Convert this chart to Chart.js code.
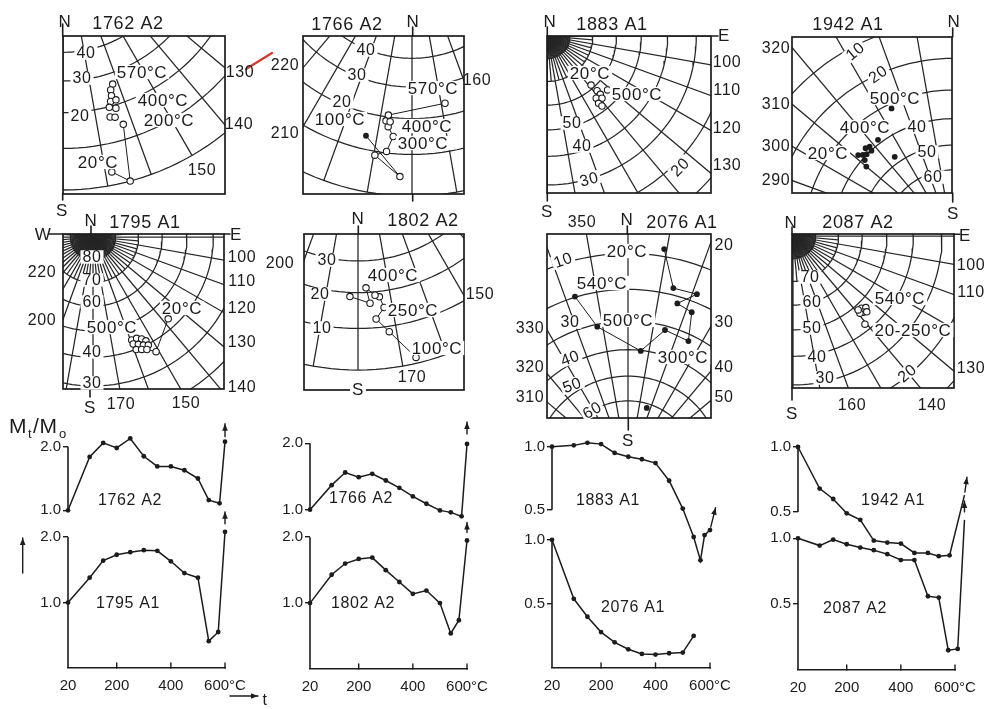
<!DOCTYPE html>
<html>
<head>
<meta charset="utf-8">
<script src="https://cdn.jsdelivr.net/npm/chart.js@4.4.0/dist/chart.umd.min.js"></script>
<style>
  body { margin: 0; background: #fff; width: 992px; height: 709px; overflow: hidden; position: relative; }
  canvas { position: absolute; }
</style>
</head>
<body>
<script>
// ---- demagnetisation curves, Mt/Mo against temperature (degC) ----
const t1762 = [20, 100, 150, 200, 250, 300, 350, 400, 450, 500, 540, 580, 600];
const m1762 = [1.0, 1.84, 2.06, 1.98, 2.13, 1.85, 1.69, 1.69, 1.63, 1.50, 1.16, 1.11, 2.08];
const t1795 = [20, 100, 150, 200, 250, 300, 350, 400, 450, 500, 540, 575, 600];
const m1795 = [1.0, 1.38, 1.64, 1.73, 1.77, 1.80, 1.79, 1.63, 1.45, 1.38, 0.41, 0.55, 2.08];
const t1766 = [20, 100, 150, 200, 250, 300, 350, 400, 450, 500, 540, 580, 600];
const m1766 = [1.0, 1.37, 1.56, 1.49, 1.54, 1.44, 1.33, 1.20, 1.09, 0.99, 0.96, 0.90, 1.99];
const t1802 = [20, 100, 150, 200, 250, 300, 350, 400, 450, 500, 540, 570, 600];
const m1802 = [1.0, 1.43, 1.60, 1.67, 1.69, 1.50, 1.32, 1.14, 1.19, 1.0, 0.54, 0.74, 1.95];
const t1883 = [20, 100, 150, 200, 250, 300, 350, 400, 450, 500, 540, 565, 580, 600];
const m1883 = [1.0, 1.01, 1.03, 1.02, 0.95, 0.92, 0.90, 0.87, 0.73, 0.51, 0.285, 0.10, 0.30, 0.34];
const t2076 = [20, 100, 150, 200, 250, 300, 350, 400, 450, 500, 540];
const m2076 = [1.0, 0.54, 0.40, 0.28, 0.20, 0.146, 0.11, 0.105, 0.115, 0.12, 0.25];
const t1942 = [20, 100, 150, 200, 250, 300, 350, 400, 450, 500, 540, 580, 635];
const m1942 = [1.0, 0.68, 0.60, 0.49, 0.44, 0.28, 0.265, 0.257, 0.185, 0.185, 0.16, 0.167, 0.63];
const t2087 = [20, 100, 150, 200, 250, 300, 350, 400, 450, 500, 540, 575, 610, 635];
const m2087 = [1.0, 0.945, 0.99, 0.955, 0.93, 0.91, 0.88, 0.835, 0.835, 0.56, 0.55, 0.15, 0.16, 1.14];

const xTicks = [20, 200, 400, 600];
const xLabels = ["20", "200", "400", "600°C"];

// ---- directions [declination, inclination] for the stereonets ----
const d1762Path = [[168.5, 3], [164.9, 0], [162.6, 14]];
const d1762Open = [[168.5, 3], [164.9, 0], [162.6, 14], [161.9, 26.4], [163.2, 24.8], [163.5, 23], [164.3, 21.4], [162.5, 21.4], [165.2, 19.8], [163.3, 19], [165.7, 17], [164.3, 16.6]];
const d1766Path = [[193.1, 13.6], [182.9, 4.4], [189.7, 9], [186.8, 10.4], [185.4, 14.6], [187.2, 17.2], [188.1, 18.8], [187.6, 20.6], [168.7, 23.7]];
const d1766Open = [[182.9, 4.4], [189.7, 9], [186.8, 10.4], [185.4, 14.6], [187.2, 17.2], [188.1, 18.8], [186.8, 18.7], [187.6, 20.6], [168.7, 23.7]];
const d1766Filled = [[193.1, 13.6]];
const d1883Open = [[138.3, 61.4], [137.7, 58], [137.7, 56], [141.8, 55.9], [138.7, 54.4], [142.7, 53.7], [142, 52], [131.8, 55.2]];
const d1942Filled = [[334.9, 31.6], [323, 38.6], [318, 38.6], [316.2, 38], [317.4, 40.1], [314.6, 39.8], [313.1, 39], [311.6, 37.8], [311.9, 40.8], [310, 42.8], [324.8, 47.4]];
const d1795Path = [[137.4, 43.4], [151.2, 36.2], [154.4, 38.4]];
const d1795Open = [[137.4, 43.4], [151.2, 36.2], [159.4, 43.8], [156.7, 43.7], [154.5, 42.7], [153, 41.4], [159.4, 42.2], [157.1, 41.4], [155, 40.4], [152.9, 39.6], [159, 39.9], [156.6, 39.2], [154.4, 38.4]];
const d1802Path = [[166.7, 1.3], [171.9, 8.6], [175, 12.3], [172.4, 15.2], [173.4, 18.4], [174.7, 19], [177.4, 21.4], [176.4, 16.8], [182.5, 18.8]];
const d2076Path = [[9.3, 8.1], [14, 18], [21.4, 17.6], [16.5, 22.1], [22, 23.2], [25.1, 32.2], [14.8, 31.4], [6.1, 40.2], [347.9, 30.8], [343, 19.8]];
const d2076Extra = [[16.8, 61.8]];
const d2087Open = [[136.5, 47.8], [134.5, 46.8], [137.3, 46.2], [139.1, 46.8], [138.6, 48.2], [135.8, 45.4], [140.8, 42.4]];

const FONT = '"Liberation Sans", "DejaVu Sans", Arial, sans-serif';
const INK = "#1c1c1c";

function addCanvas(left, top, w, h) {
  const c = document.createElement("canvas");
  c.width = w; c.height = h;
  c.style.left = left + "px"; c.style.top = top + "px";
  c.style.width = w + "px"; c.style.height = h + "px";
  document.body.appendChild(c);
  return c;
}

function arrowHead(ctx, x1, y1, x2, y2) {
  const a = Math.atan2(y2 - y1, x2 - x1);
  ctx.beginPath();
  ctx.moveTo(x1, y1); ctx.lineTo(x2, y2); ctx.stroke();
  ctx.beginPath();
  ctx.moveTo(x2, y2);
  ctx.lineTo(x2 - 7 * Math.cos(a) + 2.8 * Math.sin(a), y2 - 7 * Math.sin(a) - 2.8 * Math.cos(a));
  ctx.lineTo(x2 - 7 * Math.cos(a) - 2.8 * Math.sin(a), y2 - 7 * Math.sin(a) + 2.8 * Math.cos(a));
  ctx.closePath(); ctx.fill();
}

// frame, axis stub, extra strokes, arrows and text labels (page coordinates -> canvas)
const deco = {
  id: "deco",
  afterDatasetsDraw(chart, args, o) {
    const ctx = chart.ctx, a = chart.chartArea;
    ctx.save();
    ctx.strokeStyle = INK; ctx.fillStyle = INK; ctx.lineCap = "round";
    if (o.box) {
      ctx.lineWidth = 1.7;
      ctx.strokeRect(a.left, a.top, a.right - a.left, a.bottom - a.top);
    }
    if (o.axis) {
      const ys = chart.scales.y;
      ctx.lineWidth = 1.6; ctx.lineCap = "butt";
      ctx.beginPath();
      ctx.moveTo(a.left, ys.getPixelForValue(o.axis[1]));
      ctx.lineTo(a.left, ys.getPixelForValue(o.axis[0]));
      ctx.stroke();
      ctx.lineCap = "round";
    }
    if (o.xTicksUp) {
      const xs = chart.scales.x;
      ctx.lineWidth = 1.4;
      [200, 400, 600].forEach(v => {
        const px = xs.getPixelForValue(v);
        ctx.beginPath(); ctx.moveTo(px, a.bottom); ctx.lineTo(px, a.bottom - 5); ctx.stroke();
      });
    }
    (o.lines || []).forEach(l => {
      ctx.strokeStyle = l[4] || INK; ctx.lineWidth = l[5] || 1.6;
      ctx.beginPath(); ctx.moveTo(l[0] - o.ox, l[1] - o.oy); ctx.lineTo(l[2] - o.ox, l[3] - o.oy); ctx.stroke();
    });
    ctx.strokeStyle = INK; ctx.lineWidth = 1.4;
    (o.arrows || []).forEach(l => arrowHead(ctx, l[0] - o.ox, l[1] - o.oy, l[2] - o.ox, l[3] - o.oy));
    if (o.tip) {
      const pts = chart.getDatasetMeta(0).data;
      const p = pts[pts.length - 1];
      const ang = (o.tip.ang || 0) * Math.PI / 180;
      const sx = p.x + o.tip.gap * Math.sin(ang), sy = p.y - o.tip.gap * Math.cos(ang);
      arrowHead(ctx, sx, sy, sx + o.tip.len * Math.sin(ang), sy - o.tip.len * Math.cos(ang));
    }
    (o.texts || []).forEach(t => {
      const [s, x, y, size, rot, bg, align, base] = t;
      ctx.save();
      ctx.translate(x - o.ox, y - o.oy);
      if (rot) ctx.rotate(rot * Math.PI / 180);
      ctx.font = (size || 15) + "px " + FONT;
      ctx.letterSpacing = "0.6px";
      ctx.textAlign = align || "center";
      ctx.textBaseline = base || "middle";
      if (bg) {
        const w = ctx.measureText(s).width;
        ctx.fillStyle = "#fff";
        ctx.fillRect(-w / 2 - 2, -size * 0.42, w + 4, size * 0.84);
      }
      ctx.fillStyle = INK;
      ctx.fillText(s, 0, base ? 0 : 1);
      ctx.restore();
    });
    ctx.restore();
  }
};

// stereographic projection, unit primitive circle, declination clockwise from up
function proj(D, I) {
  const r = Math.tan((90 - I) / 2 * Math.PI / 180);
  const a = D * Math.PI / 180;
  return { x: r * Math.sin(a), y: r * Math.cos(a) };
}

function gridSet(data) {
  return { data: data, showLine: true, pointRadius: 0, borderColor: "#262626", borderWidth: 1.25, order: 5, clip: 0 };
}

function net(p) {
  const M = 50, R = p.R || 258;
  const left = Math.round(p.box[0]) - M, top = Math.round(p.box[1]) - M;
  const w = Math.round(p.box[2] - p.box[0]), h = Math.round(p.box[3] - p.box[1]);
  const cv = addCanvas(left, top, w + 2 * M, h + 2 * M);
  const cx = p.center[0], cy = p.center[1];
  const xl = left + M, yt = top + M;
  const pts = arr => arr.map(d => proj(d[0], d[1]));
  const sets = [];
  if (p.path) sets.push({ data: pts(p.path), showLine: true, pointRadius: 0, borderColor: INK, borderWidth: 1, order: 2, clip: 0 });
  if (p.open) sets.push({ data: pts(p.open), showLine: false, pointRadius: 3.2, pointBackgroundColor: "#fff", pointBorderColor: INK, pointBorderWidth: 1.1, order: 1, clip: 0 });
  if (p.filled) sets.push({ data: pts(p.filled), showLine: false, pointRadius: 2.9, pointBackgroundColor: INK, pointBorderColor: INK, pointBorderWidth: 0, order: 0, clip: 0 });
  const step = p.fan ? 2.5 : 10;
  for (let D = 0; D < 360; D += step) {
    const lim = D % 10 === 0 ? 0 : (D % 5 === 0 ? 70 : 80);
    sets.push(gridSet([proj(D, 90), proj(D, lim)]));
  }
  for (let I = 0; I <= 80; I += 10) {
    const c = [];
    for (let D = 0; D <= 360; D += 2) c.push(proj(D, I));
    sets.push(gridSet(c));
  }
  new Chart(cv, {
    type: "scatter",
    data: { datasets: sets },
    options: {
      responsive: false, animation: false, devicePixelRatio: 1, events: [],
      layout: { padding: M },
      scales: {
        x: { display: false, min: (xl - cx) / R, max: (xl + w - cx) / R },
        y: { display: false, min: (cy - (yt + h)) / R, max: (cy - yt) / R }
      },
      plugins: {
        legend: { display: false }, tooltip: { enabled: false },
        deco: { box: true, ox: left, oy: top, lines: p.lines, texts: p.texts }
      }
    },
    plugins: [deco]
  });
}

// area = page pixels of the plot box: left (20 degC), top (y max), right (600 degC), bottom (y min)
function curve(p) {
  const L = 70, T = 45, Rm = 48, B = p.xAxis ? 40 : 20;
  const left = Math.round(p.area[0]) - L, top = Math.round(p.area[1]) - T;
  const w = Math.round(p.area[2] - p.area[0]), h = Math.round(p.area[3] - p.area[1]);
  const cv = addCanvas(left, top, w + L + Rm, h + T + B);
  new Chart(cv, {
    type: "scatter",
    data: {
      datasets: [{
        data: p.t.map((t, i) => ({ x: t, y: p.m[i] })),
        showLine: true, borderColor: INK, borderWidth: 1.5,
        pointRadius: 2.4, pointBackgroundColor: INK, pointBorderWidth: 0, clip: false
      }]
    },
    options: {
      responsive: false, animation: false, devicePixelRatio: 1, events: [],
      layout: { padding: { left: 0, top: T, right: Rm, bottom: p.xAxis ? 0 : B } },
      scales: {
        x: {
          type: "linear", display: !!p.xAxis, bounds: "data",
          // range set here (not as min/max) so points past 600 are still drawn
          afterDataLimits(s) { s.min = 20; s.max = 600; },
          afterFit(s) { s.height = p.xAxis ? B : 0; },
          afterBuildTicks(s) { s.ticks = xTicks.map(v => ({ value: v })); },
          ticks: { padding: 9, color: INK, font: { family: FONT, size: 15 }, callback: v => xLabels[xTicks.indexOf(v)] },
          grid: { drawOnChartArea: false, drawTicks: false },
          border: { color: INK, width: 1.6 }
        },
        y: {
          min: p.y[0], max: p.y[1],
          afterFit(s) { s.width = L; },
          afterBuildTicks(s) { s.ticks = p.yt.map(v => ({ value: v })); },
          ticks: { padding: 2, color: INK, font: { family: FONT, size: 15 }, callback: v => v.toFixed(1) },
          grid: { drawOnChartArea: false, tickLength: 5, color: INK, lineWidth: 1.4 },
          border: { display: false }
        }
      },
      plugins: {
        legend: { display: false }, tooltip: { enabled: false },
        deco: { ox: left, oy: top, axis: p.axis, texts: p.texts, lines: p.lines, arrows: p.arrows, tip: p.tip, xTicksUp: p.xAxis }
      }
    },
    plugins: [deco]
  });
}

// ---- top row of nets ----
net({
  box: [62.7, 35.7, 224.3, 193.3], center: [63, -68],
  path: d1762Path, open: d1762Open,
  lines: [[62.7, 24, 62.7, 36], [62.7, 193, 62.7, 200], [246, 69, 272, 53, "#d8392b", 2.2]],
  texts: [["N", 65, 21, 17], ["1762 A2", 128, 23, 18],
    ["40", 86, 53, 16, 0, 1], ["30", 82, 78, 16, 0, 1], ["20", 80, 116, 16, 0, 1],
    ["570°C", 142, 72, 17, 0, 1], ["400°C", 163, 100, 17, 0, 1], ["200°C", 169, 120, 17, 0, 1], ["20°C", 98, 162, 17, 0, 1],
    ["150", 202, 170, 16, 0, 1], ["130", 240, 72, 16], ["140", 239, 124, 16], ["S", 62, 210, 17]]
});
net({
  box: [303.3, 36, 464, 194], center: [412, -62],
  path: d1766Path, open: d1766Open, filled: d1766Filled,
  lines: [[412.7, 27, 412.7, 36], [412.7, 194, 412.7, 201]],
  texts: [["1766 A2", 347, 24, 18], ["N", 413, 21, 17], ["220", 285, 65, 16], ["210", 285, 133, 16], ["160", 477, 80, 16],
    ["40", 366, 50, 16, 0, 1], ["30", 357, 75, 16, 0, 1], ["20", 342, 102, 16, 0, 1],
    ["570°C", 433, 88, 17, 0, 1], ["100°C", 340, 119, 17, 0, 1], ["400°C", 427, 126, 17, 0, 1], ["300°C", 423, 143, 17, 0, 1]]
});
net({
  box: [547.3, 36, 711.7, 193.3], center: [547.3, 36], fan: true,
  open: d1883Open,
  lines: [[547.3, 27, 547.3, 36], [547.3, 193, 547.3, 201], [711.7, 36, 718, 36]],
  texts: [["N", 550, 21, 17], ["1883 A1", 612, 24, 18], ["E", 724, 35, 17],
    ["100", 727, 62, 16], ["110", 727, 90, 16], ["120", 727, 128, 16], ["130", 727, 165, 16],
    ["20°C", 590, 73, 17, 0, 1], ["500°C", 637, 94, 17, 0, 1],
    ["50", 572, 123, 16, 0, 1], ["40", 582, 146, 16, 0, 1], ["30", 589, 179, 16, -15, 1], ["20", 680, 167, 16, -45, 1],
    ["S", 547, 211, 17]]
});
net({
  box: [792.3, 37.3, 952.7, 193.3], center: [952.7, 239],
  filled: d1942Filled,
  lines: [[952.7, 28, 952.7, 37], [952.7, 193, 952.7, 202]],
  texts: [["1942 A1", 848, 24, 18], ["N", 954, 21, 17],
    ["320", 776, 48, 16], ["310", 776, 104, 16], ["300", 776, 146, 16], ["290", 776, 180, 16],
    ["10", 855, 51, 16, -40, 1], ["20", 878, 74, 16, -35, 1], ["500°C", 895, 98, 17, 0, 1], ["400°C", 865, 127, 17, 0, 1],
    ["40", 917, 127, 16, 0, 1], ["20°C", 828, 153, 17, 0, 1], ["50", 927, 152, 16, 0, 1], ["60", 933, 177, 16, 0, 1],
    ["S", 953, 213, 17]]
});

// ---- second row of nets ----
net({
  box: [63.3, 234, 224.3, 389.3], center: [93, 237], fan: true,
  path: d1795Path, open: d1795Open,
  lines: [[49, 234, 63.3, 234], [224.3, 234, 230, 234], [91, 226, 91, 234], [90, 389, 90, 397]],
  texts: [["N", 91, 220, 17], ["1795 A1", 145, 222, 18], ["W", 43, 234, 17], ["E", 236, 234, 17],
    ["220", 42, 272, 16], ["200", 42, 320, 16],
    ["80", 92, 257, 16, 0, 1], ["70", 92, 280, 16, 0, 1], ["60", 92, 302, 16, 0, 1], ["500°C", 112, 327, 17, 0, 1],
    ["40", 92, 352, 16, 0, 1], ["30", 92, 383, 16, 0, 1], ["20°C", 182, 308, 17, 0, 1],
    ["100", 242, 257, 16], ["110", 242, 281, 16], ["120", 242, 308, 16], ["130", 242, 342, 16], ["140", 242, 387, 16],
    ["170", 121, 404, 16], ["150", 186, 403, 16], ["S", 90, 407, 17]]
});
net({
  box: [304.3, 234.3, 464, 390], center: [358, 112],
  path: d1802Path, open: d1802Path,
  lines: [[358.3, 226, 358.3, 234.3]],
  texts: [["N", 358, 218, 17], ["1802 A2", 423, 220, 18], ["200", 280, 263, 16], ["150", 480, 294, 16],
    ["30", 327, 260, 16, 0, 1], ["20", 320, 294, 16, 0, 1], ["10", 322, 328, 16, 0, 1],
    ["400°C", 393, 275, 17, 0, 1], ["250°C", 413, 310, 17, 0, 1], ["100°C", 437, 348, 17, 0, 1],
    ["170", 412, 377, 16, 0, 1], ["S", 358, 389, 17, 0, 1]]
});
net({
  box: [546.7, 234.3, 710.7, 418.3], center: [628, 470],
  path: d2076Path, filled: d2076Path.concat(d2076Extra),
  lines: [[627.3, 226, 627.3, 234], [628.3, 418, 628.3, 430]],
  texts: [["350", 582, 222, 16], ["N", 627, 219, 17], ["2076 A1", 682, 222, 18],
    ["20", 724, 245, 16], ["30", 724, 322, 16], ["40", 724, 367, 16], ["50", 724, 397, 16],
    ["330", 530, 328, 16], ["320", 530, 367, 16], ["310", 530, 397, 16],
    ["10", 563, 260, 16, -20, 1], ["30", 570, 322, 16, 0, 1], ["40", 570, 358, 16, -20, 1], ["50", 572, 385, 16, -20, 1], ["60", 592, 410, 16, -30, 1],
    ["20°C", 627, 251, 17, 0, 1], ["540°C", 602, 283, 17, 0, 1], ["500°C", 628, 320, 17, 0, 1], ["300°C", 683, 357, 17, 0, 1],
    ["S", 628, 440, 17]]
});
net({
  box: [791.7, 234.3, 954, 388.3], center: [793, 236], fan: true,
  open: d2087Open,
  lines: [[792, 227, 792, 234], [954, 234.3, 960, 234.3], [792, 388, 792, 400]],
  texts: [["N", 791, 222, 17], ["2087 A2", 858, 222, 18], ["E", 965, 235, 17],
    ["100", 971, 265, 16], ["110", 971, 292, 16], ["130", 971, 368, 16],
    ["70", 810, 277, 16, 0, 1], ["60", 812, 302, 16, 0, 1], ["50", 812, 328, 16, 0, 1], ["40", 817, 357, 16, 0, 1],
    ["30", 825, 378, 16, 0, 1], ["20", 907, 373, 16, -40, 1],
    ["540°C", 900, 298, 17, 0, 1], ["20-250°C", 913, 330, 17, 0, 1],
    ["160", 852, 405, 16], ["140", 932, 405, 16], ["S", 792, 413, 17]]
});

// ---- demagnetisation curves ----
curve({
  area: [68, 434, 225, 522.7], y: [0.8, 2.2], yt: [1, 2], axis: [1, 2], t: t1762, m: m1762,
  tip: { gap: 5, len: 13 },
  texts: [["1762 A2", 130, 500, 16],
    ["M", 9, 433, 21, 0, 0, "left", "alphabetic"], ["t", 28, 438, 13, 0, 0, "left", "alphabetic"],
    ["/M", 33, 433, 21, 0, 0, "left", "alphabetic"], ["o", 59, 438, 13, 0, 0, "left", "alphabetic"]]
});
curve({
  area: [68, 523.6, 225, 668], y: [0, 2.2], yt: [1, 2], axis: [0, 2], t: t1795, m: m1795, xAxis: true,
  tip: { gap: 8, len: 12 },
  arrows: [[22.7, 573, 22.7, 538], [230, 696, 258, 696]],
  texts: [["1795 A1", 128, 603, 16], ["t", 265, 700, 16]]
});
curve({
  area: [310, 430, 467.3, 523.3], y: [0.8, 2.2], yt: [1, 2], axis: [1, 2], t: t1766, m: m1766,
  tip: { gap: 10, len: 12 },
  texts: [["1766 A2", 361, 498, 16]]
});
curve({
  area: [310, 523.5, 467.3, 668.7], y: [0, 2.2], yt: [1, 2], axis: [0, 2], t: t1802, m: m1802, xAxis: true,
  tip: { gap: 8, len: 10 },
  texts: [["1802 A2", 363, 603, 16]]
});
curve({
  area: [552.3, 434, 710, 573.3], y: [0, 1.1], yt: [0.5, 1], axis: [0.5, 1], t: t1883, m: m1883,
  tip: { gap: 3, len: 20, ang: 14 },
  texts: [["1883 A1", 608, 500, 16]]
});
curve({
  area: [552.3, 527.2, 710, 668], y: [0, 1.1], yt: [0.5, 1], axis: [0, 1], t: t2076, m: m2076, xAxis: true,
  texts: [["2076 A1", 633, 607, 16]]
});
curve({
  area: [797.7, 433.7, 954.3, 576.7], y: [0, 1.1], yt: [0.5, 1], axis: [0.5, 1], t: t1942, m: m1942,
  tip: { gap: 3, len: 15, ang: 8 },
  texts: [["1942 A1", 893, 500, 16]]
});
curve({
  area: [797.7, 512, 954.3, 670], y: [0, 1.2], yt: [0.5, 1], axis: [0, 1], t: t2087, m: m2087, xAxis: true,
  tip: { gap: 8, len: 11 },
  texts: [["2087 A2", 855, 608, 16]]
});
</script>
</body>
</html>
